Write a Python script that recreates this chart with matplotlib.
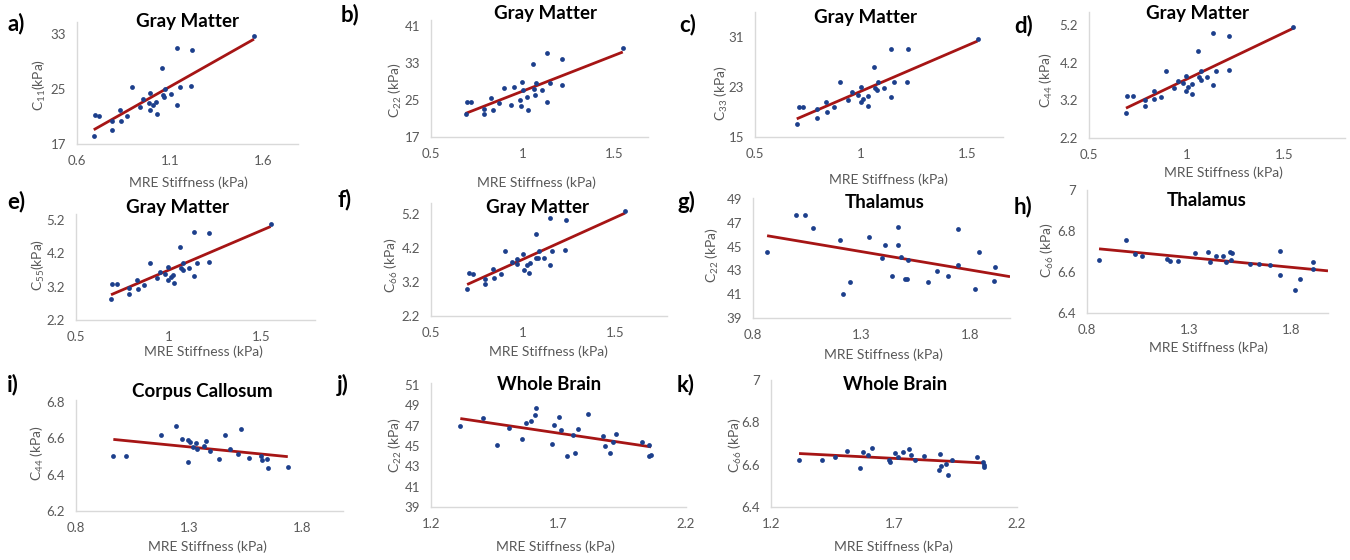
import numpy as np
import matplotlib
matplotlib.use('Agg')
import matplotlib.pyplot as plt

plt.rcParams['font.family'] = ['Lato', 'DejaVu Sans']
plt.rcParams['mathtext.fontset'] = 'custom'
plt.rcParams['mathtext.rm'] = 'Lato'
plt.rcParams['mathtext.it'] = 'Lato'
plt.rcParams['mathtext.default'] = 'regular'

# ---------------- data ----------------
a_x = [0.69, 0.695, 0.717, 0.788, 0.79, 0.833, 0.835, 0.866, 0.897, 0.937, 0.952, 0.985, 0.994, 0.994,
       1.008, 1.026, 1.028, 1.057, 1.06, 1.068, 1.071, 1.107, 1.134, 1.134, 1.152, 1.216, 1.213, 1.55]
a_y = [18.2, 21.2, 21.1, 19.1, 20.4, 22.0, 20.3, 21.0, 25.2, 22.3, 23.5, 23.0, 24.4, 22.0,
       22.6, 23.1, 21.3, 28.0, 24.1, 23.8, 25.0, 24.3, 31.0, 22.7, 25.2, 30.7, 25.4, 32.6]

b_x = [0.689, 0.697, 0.719, 0.788, 0.788, 0.828, 0.839, 0.870, 0.897, 0.937, 0.955, 0.985, 0.992, 0.997,
       1.003, 1.025, 1.03, 1.057, 1.061, 1.07, 1.076, 1.107, 1.134, 1.134, 1.152, 1.216, 1.216, 1.549]
b_y = [22.0, 24.5, 24.7, 23.1, 22.0, 25.5, 22.9, 24.4, 27.6, 23.9, 27.9, 25.1, 23.7, 28.9,
       27.3, 25.7, 22.8, 32.8, 27.4, 26.2, 28.7, 27.1, 35.2, 24.7, 28.7, 34.0, 28.2, 36.3]

c_x = [0.697, 0.708, 0.725, 0.794, 0.794, 0.833, 0.841, 0.873, 0.901, 0.94, 0.959, 0.987, 0.998, 1.0,
       1.011, 1.031, 1.031, 1.061, 1.066, 1.077, 1.082, 1.11, 1.142, 1.142, 1.157, 1.223, 1.219, 1.55]
c_y = [17.1, 19.9, 19.8, 19.5, 18.0, 20.6, 19.0, 19.8, 23.8, 20.9, 22.2, 21.8, 20.6, 23.0,
       21.1, 21.6, 20.0, 26.3, 22.8, 22.6, 23.9, 22.8, 29.2, 21.5, 23.8, 29.1, 23.9, 30.8]

d_x = [0.69, 0.697, 0.724, 0.788, 0.788, 0.834, 0.834, 0.87, 0.896, 0.938, 0.959, 0.985, 0.998, 0.998,
       1.01, 1.027, 1.031, 1.062, 1.067, 1.074, 1.075, 1.108, 1.139, 1.139, 1.152, 1.219, 1.219, 1.55]
d_y = [2.86, 3.32, 3.32, 3.04, 3.21, 3.46, 3.23, 3.28, 3.98, 3.52, 3.72, 3.66, 3.85, 3.44,
       3.55, 3.37, 3.63, 4.51, 3.82, 3.74, 3.99, 3.81, 3.61, 4.98, 3.97, 4.92, 4.01, 5.16]

e_x = [0.689, 0.696, 0.719, 0.786, 0.788, 0.827, 0.836, 0.869, 0.899, 0.935, 0.953, 0.98, 0.995, 0.998,
       1.011, 1.025, 1.031, 1.061, 1.065, 1.076, 1.079, 1.108, 1.138, 1.138, 1.155, 1.219, 1.219, 1.55]
e_y = [2.82, 3.29, 3.29, 3.17, 2.99, 3.41, 3.14, 3.26, 3.90, 3.45, 3.63, 3.57, 3.40, 3.79,
       3.50, 3.55, 3.30, 4.37, 3.77, 3.70, 3.89, 3.77, 4.83, 3.53, 3.90, 4.80, 3.93, 5.07]

f_x = [0.696, 0.705, 0.728, 0.792, 0.792, 0.835, 0.844, 0.879, 0.899, 0.94, 0.964, 0.967, 1.0, 1.004,
       1.018, 1.034, 1.036, 1.067, 1.072, 1.08, 1.085, 1.112, 1.145, 1.145, 1.158, 1.23, 1.225, 1.553]
f_y = [2.99, 3.46, 3.44, 3.13, 3.29, 3.58, 3.32, 3.43, 4.09, 3.77, 3.87, 3.71, 4.01, 3.55,
       3.69, 3.47, 3.74, 4.61, 3.91, 3.89, 4.11, 3.91, 5.07, 3.69, 4.09, 5.02, 4.12, 5.27]

g_x = [0.865, 1.0, 1.04, 1.076, 1.20, 1.215, 1.249, 1.336, 1.394, 1.41, 1.44, 1.471, 1.471,
       1.482, 1.503, 1.51, 1.516, 1.606, 1.648, 1.70, 1.748, 1.748, 1.825, 1.845, 1.912, 1.917]
g_y = [44.55, 47.64, 47.64, 46.6, 45.6, 41.0, 42.06, 45.83, 44.04, 45.12, 42.57, 46.68, 45.18,
       44.1, 42.29, 42.26, 43.9, 42.06, 42.97, 42.57, 46.45, 43.48, 41.44, 44.52, 42.14, 43.3]

h_x = [0.859, 0.993, 1.033, 1.071, 1.193, 1.208, 1.245, 1.327, 1.392, 1.40, 1.433, 1.466, 1.479,
       1.498, 1.511, 1.505, 1.60, 1.642, 1.694, 1.743, 1.743, 1.82, 1.841, 1.909, 1.909]
h_y = [6.657, 6.756, 6.687, 6.677, 6.661, 6.654, 6.654, 6.692, 6.70, 6.649, 6.68, 6.68, 6.649,
       6.698, 6.692, 6.657, 6.638, 6.638, 6.634, 6.703, 6.584, 6.513, 6.567, 6.651, 6.613]

i_x = [0.965, 1.019, 1.175, 1.243, 1.268, 1.297, 1.302, 1.297, 1.316, 1.331, 1.335, 1.367, 1.375,
       1.394, 1.431, 1.46, 1.479, 1.515, 1.53, 1.564, 1.618, 1.62, 1.642, 1.649, 1.736]
i_y = [6.503, 6.503, 6.617, 6.668, 6.596, 6.589, 6.58, 6.47, 6.549, 6.576, 6.538, 6.556, 6.585,
       6.528, 6.488, 6.617, 6.541, 6.512, 6.651, 6.492, 6.501, 6.483, 6.486, 6.437, 6.442]

j_x = [1.315, 1.404, 1.458, 1.504, 1.558, 1.571, 1.592, 1.609, 1.611, 1.673, 1.683, 1.703, 1.709, 1.734,
       1.755, 1.764, 1.778, 1.817, 1.876, 1.884, 1.902, 1.915, 1.926, 2.026, 2.056, 2.054, 2.063]
j_y = [47.0, 47.72, 45.09, 46.73, 45.71, 47.29, 47.49, 48.05, 48.77, 45.18, 47.06, 47.88, 46.57, 44.03,
       46.07, 44.36, 46.63, 48.14, 45.97, 45.05, 44.36, 45.41, 46.17, 45.41, 45.09, 44.03, 44.1]

k_x = [1.314, 1.406, 1.461, 1.507, 1.561, 1.574, 1.594, 1.612, 1.678, 1.685, 1.706, 1.716, 1.738, 1.76,
       1.769, 1.785, 1.823, 1.881, 1.886, 1.893, 1.911, 1.921, 1.935, 2.036, 2.061, 2.067, 2.065]
k_y = [6.624, 6.624, 6.634, 6.664, 6.586, 6.661, 6.645, 6.68, 6.621, 6.613, 6.653, 6.637, 6.661, 6.675,
       6.645, 6.624, 6.643, 6.574, 6.65, 6.594, 6.601, 6.55, 6.624, 6.634, 6.613, 6.59, 6.597]

letters = ['a)', 'b)', 'c)', 'd)', 'e)', 'f)', 'g)', 'h)', 'i)', 'j)', 'k)']
titles = ['Gray Matter'] * 6 + ['Thalamus', 'Thalamus', 'Corpus Callosum', 'Whole Brain', 'Whole Brain']
ylabels = ['C$_{11}$(kPa)', 'C$_{22}$ (kPa)', 'C$_{33}$ (kPa)', 'C$_{44}$ (kPa)', 'C$_{55}$(kPa)',
           'C$_{66}$ (kPa)', 'C$_{22}$ (kPa)', 'C$_{66}$ (kPa)', 'C$_{44}$ (kPa)', 'C$_{22}$ (kPa)',
           'C$_{66}$ (kPa)']
xlabel = 'MRE Stiffness (kPa)'
xticks = [[0.6, 1.1, 1.6]] + [[0.5, 1, 1.5]] * 5 + [[0.8, 1.3, 1.8]] * 3 + [[1.2, 1.7, 2.2]] * 2
yticks = [[17, 25, 33], [17, 25, 33, 41], [15, 23, 31], [2.2, 3.2, 4.2, 5.2], [2.2, 3.2, 4.2, 5.2],
          [2.2, 3.2, 4.2, 5.2], [39, 41, 43, 45, 47, 49], [6.4, 6.6, 6.8, 7],
          [6.2, 6.4, 6.6, 6.8], [39, 41, 43, 45, 47, 49, 51], [6.4, 6.6, 6.8, 7]]
xs = [a_x, b_x, c_x, d_x, e_x, f_x, g_x, h_x, i_x, j_x, k_x]
ys = [a_y, b_y, c_y, d_y, e_y, f_y, g_y, h_y, i_y, j_y, k_y]

# ---------------- layout (pixels) ----------------
W, H = 1350, 560
# axes boxes: left, right, top, bottom
boxes = [(77, 298, 22, 144), (431, 648, 20, 137), (755, 1003, 12, 137), (1089, 1345, 12, 138),
         (76, 315, 214, 320), (431, 667, 203, 316), (753, 1010, 198, 318), (1087, 1328, 190, 313),
         (76, 343, 400, 511), (431, 686, 383, 507), (771, 1017, 380, 507)]
xlims = [(0.6, 1.786), (0.5, 1.687), (0.5, 1.67), (0.5, 1.815), (0.5, 1.789), (0.5, 1.78),
         (0.8, 1.986), (0.8, 1.98), (0.8, 1.98), (1.2, 2.2), (1.2, 2.2)]
ylims = [(17, 34.7), (17, 42.4), (15, 35.1), (2.2, 5.55), (2.2, 5.37), (2.2, 5.51),
         (39, 49.1), (6.4, 7.0), (6.2, 6.81), (39, 51.2), (6.4, 7.0)]
extend_line = [False] * 6 + [True, True, False, False, False]
title_pos = [(188, 21), (546, 14), (865, 17), (1198, 14), (178, 208), (538, 207), (885, 203),
             (1207, 200), (202, 392), (549, 384), (895, 384)]
letter_pos = [(7, 24), (341, 15), (679, 25), (1014, 26), (7, 202), (337, 200), (677, 202),
              (1014, 207), (7, 385), (337, 385), (677, 385)]
xlabel_pos = [(188, 183), (536, 183), (888, 180), (1223, 173), (203, 352), (548, 352), (883, 355),
              (1208, 348), (207, 547), (555, 547), (893, 547)]
ylabel_pos = [(39, 85), (395, 90), (721, 93), (1046, 80), (38, 265), (391, 265), (712, 255),
              (1047, 250), (37, 453), (395, 445), (735, 445)]

GRAY = '#595959'
SPINE = '#D9D9D9'
DOT = '#1C3F8C'
LINE = '#A61515'

fig = plt.figure(figsize=(W / 100, H / 100), dpi=100)


def fx(px):
    return px / W


def fy(py):
    return 1 - py / H


for n in range(11):
    l, r, t, b = boxes[n]
    ax = fig.add_axes([fx(l), fy(b), (r - l) / W, (b - t) / H])
    ax.patch.set_alpha(0)
    x = np.array(xs[n])
    y = np.array(ys[n])
    ax.scatter(x, y, s=12, color=DOT, zorder=3, linewidths=0)
    k1, k0 = np.polyfit(x, y, 1)
    x_end = xlims[n][1] if extend_line[n] else x.max()
    lx = np.array([x.min(), x_end])
    ax.plot(lx, k1 * lx + k0, color=LINE, lw=2.0, zorder=2, solid_capstyle='butt')
    ax.set_xlim(*xlims[n])
    ax.set_ylim(*ylims[n])
    ax.set_xticks(xticks[n])
    ax.set_xticklabels(['%g' % v for v in xticks[n]])
    ax.set_yticks(yticks[n])
    ax.set_yticklabels(['%g' % v for v in yticks[n]])
    ax.tick_params(length=0, labelsize=9.5, colors=GRAY, pad=8)
    for s in ['top', 'right']:
        ax.spines[s].set_visible(False)
    for s in ['left', 'bottom']:
        ax.spines[s].set_color(SPINE)
        ax.spines[s].set_linewidth(1.0)

    fig.text(fx(title_pos[n][0]), fy(title_pos[n][1]), titles[n], ha='center', va='center',
             fontsize=13.5, fontweight='bold', color='black')
    fig.text(fx(letter_pos[n][0]), fy(letter_pos[n][1]), letters[n], ha='left', va='center',
             fontsize=16, fontweight='bold', color='black')
    fig.text(fx(xlabel_pos[n][0]), fy(xlabel_pos[n][1]), xlabel, ha='center', va='center',
             fontsize=10, color=GRAY)
    fig.text(fx(ylabel_pos[n][0]), fy(ylabel_pos[n][1]), ylabels[n], ha='center', va='center',
             fontsize=10, color=GRAY, rotation=90)

fig.savefig('out.png', dpi=100, facecolor='white')
